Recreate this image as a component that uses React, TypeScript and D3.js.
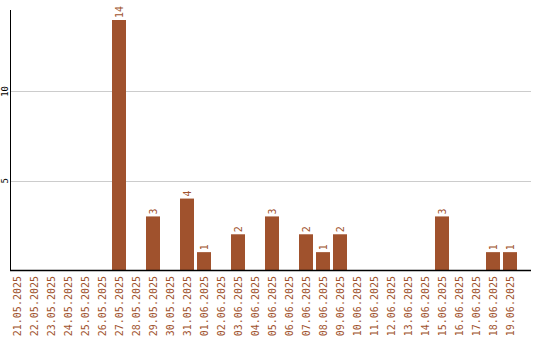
import React from "react";
import * as d3 from "d3";

const categories = [
  "21.05.2025","22.05.2025","23.05.2025","24.05.2025","25.05.2025","26.05.2025","27.05.2025",
  "28.05.2025","29.05.2025","30.05.2025","31.05.2025","01.06.2025","02.06.2025","03.06.2025",
  "04.06.2025","05.06.2025","06.06.2025","07.06.2025","08.06.2025","09.06.2025","10.06.2025",
  "11.06.2025","12.06.2025","13.06.2025","14.06.2025","15.06.2025","16.06.2025","17.06.2025",
  "18.06.2025","19.06.2025",
];
const values = [0,0,0,0,0,0,14,0,3,0,4,1,0,2,0,3,0,2,1,2,0,0,0,0,0,3,0,0,1,1];
const yTicks = [5, 10];

const W = 540, H = 340;
const left = 10, bottom = 270, top = 10, right = 531;
const color = "#A0522D";
const font = "'DejaVu Sans Mono', monospace";

export default function App() {
  const x = d3.scaleBand<string>().domain(categories).range([left, left + categories.length * 17]).paddingInner(0).paddingOuter(0);
  const y = d3.scaleLinear().domain([0, d3.max(values)! * 1.04]).range([bottom, top]);
  const bw = x.bandwidth() - 3;
  return (
    <svg width={W} height={H} style={{ position: "absolute", left: 0, top: 0 }}>
      <rect width={W} height={H} fill="#fff" />
      {yTicks.map((t) => (
        <g key={t}>
          <line x1={left} x2={right} y1={Math.round(y(t)) + 0.5} y2={Math.round(y(t)) + 0.5} stroke="#cccccc" strokeWidth={1} />
          <text transform={`translate(8,${y(t)}) rotate(-90)`} textAnchor="middle" fontFamily={font} fontSize={9} fill="#000">{t}</text>
        </g>
      ))}
      {categories.map((c, i) => {
        const v = values[i];
        const bx = x(c)!;
        const cx = bx + bw / 2;
        return (
          <g key={c}>
            {v > 0 && (
              <>
                <rect x={bx} y={y(v)} width={bw} height={bottom - y(v)} fill={color} />
                <text transform={`translate(${cx + 3.5},${y(v) - 2}) rotate(-90)`} textAnchor="start" fontFamily={font} fontSize={10} fill={color}>{v}</text>
              </>
            )}
            <text transform={`translate(${cx + 3.5},${bottom + 6}) rotate(-90)`} textAnchor="end" fontFamily={font} fontSize={10} fill={color}>{c}</text>
          </g>
        );
      })}
      <line x1={left + 0.5} x2={left + 0.5} y1={top} y2={bottom} stroke="#000" strokeWidth={1} />
      <line x1={left} x2={right} y1={bottom + 0.5} y2={bottom + 0.5} stroke="#000" strokeWidth={1.5} />
    </svg>
  );
}
